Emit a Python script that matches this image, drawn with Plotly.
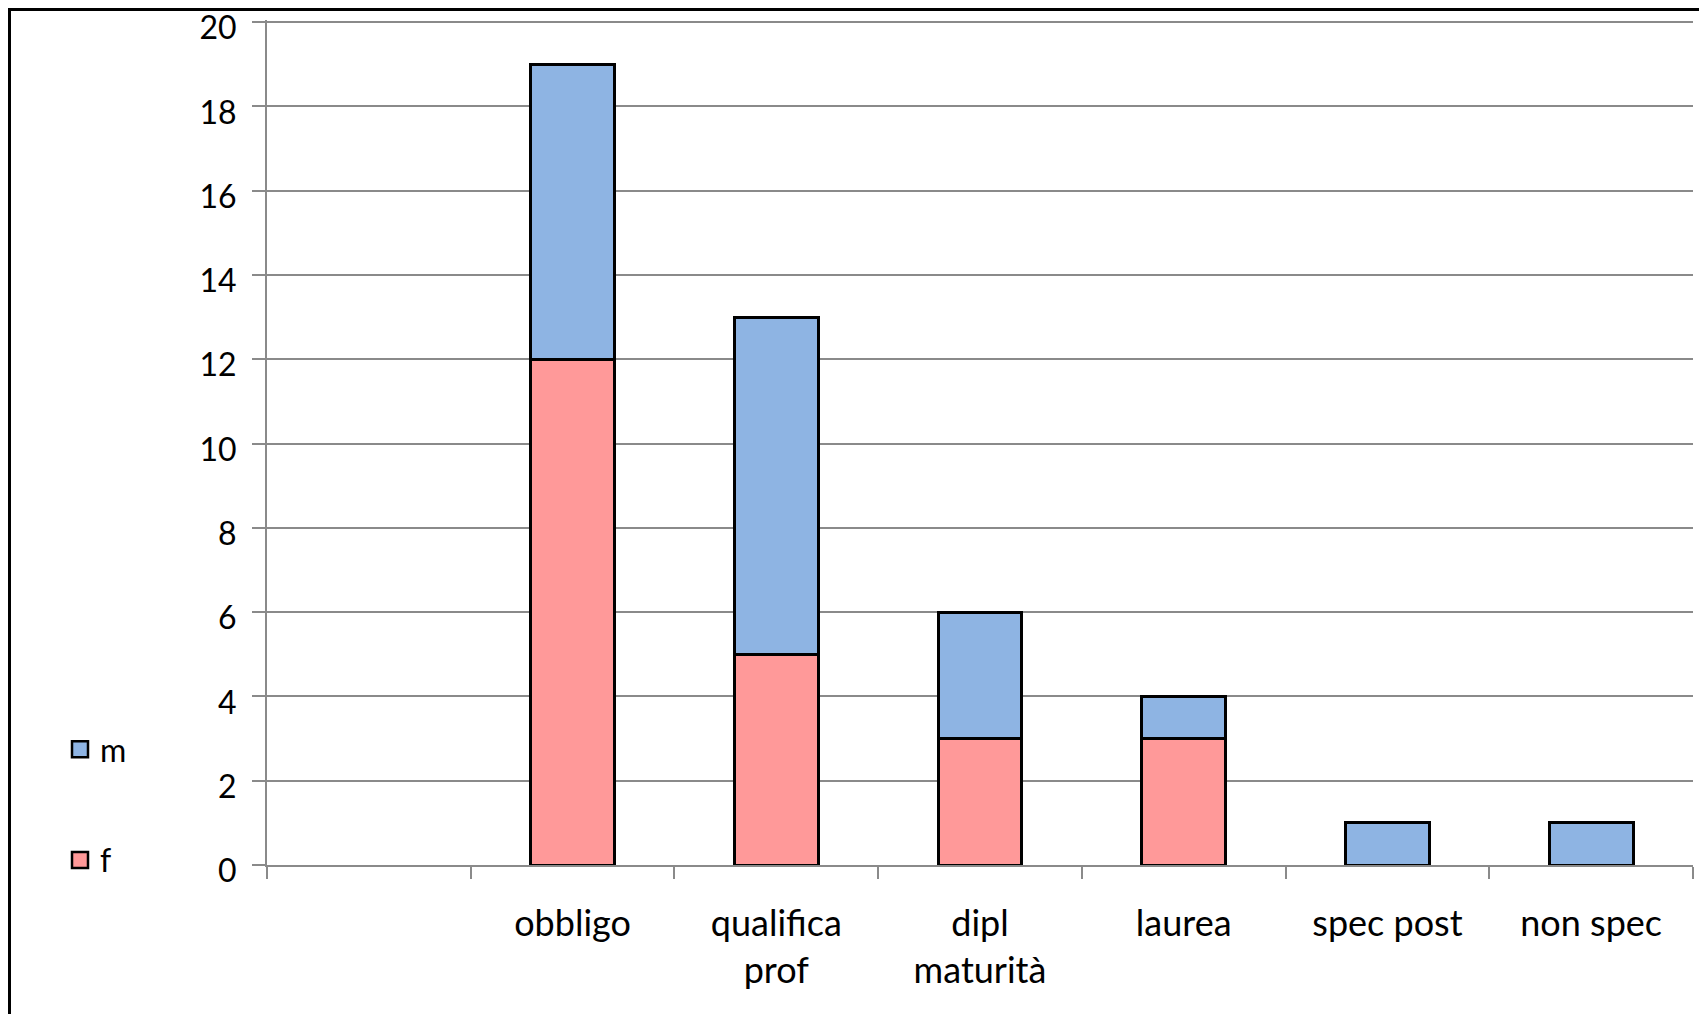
import plotly.graph_objects as go

categories = [" ", "obbligo", "qualifica<br>prof", "dipl<br>maturità", "laurea", "spec post", "non spec"]
f_values = [None, 12, 5, 3, 3, None, None]
m_values = [None, 7, 8, 3, 1, 1, 1]
y_ticks = [0, 2, 4, 6, 8, 10, 12, 14, 16, 18, 20]

F_COLOR = "#FF9999"
M_COLOR = "#8EB4E3"

OFF = 8  # page body margin
W, H = 1707 - OFF, 1014 - OFF
L, T = 267 - OFF, 12
pw, ph = 1426, 845
R, B = W - L - pw, H - T - ph

FONT = "Lato, Calibri, sans-serif"
GRID = "#8a8a8a"

fig = go.Figure()
fig.add_trace(go.Bar(x=categories, y=f_values, name="f", showlegend=False,
                     marker=dict(color=F_COLOR, line=dict(color="black", width=3))))
fig.add_trace(go.Bar(x=categories, y=m_values, name="m", showlegend=False,
                     marker=dict(color=M_COLOR, line=dict(color="black", width=3))))
# legend entries
fig.add_trace(go.Scatter(x=[None], y=[None], mode="markers", name="m", legendrank=1,
                         legendgroup="m",
                         marker=dict(symbol="square", size=18, color=M_COLOR,
                                     line=dict(color="black", width=2.5))))
fig.add_trace(go.Scatter(x=[None], y=[None], mode="markers", name="f", legendrank=2,
                         legendgroup="f",
                         marker=dict(symbol="square", size=18, color=F_COLOR,
                                     line=dict(color="black", width=2.5))))

def px(xp):
    return (xp - OFF - L) / pw

def py(yp):
    return 1 - (yp - OFF - T) / ph

fig.add_shape(type="rect", xref="paper", yref="paper",
              x0=px(9.5), x1=px(1704.5), y0=py(1030), y1=py(9.5),
              line=dict(color="black", width=3), layer="above")

fig.update_layout(
    width=W, height=H,
    barmode="stack", bargap=0.588,
    paper_bgcolor="white", plot_bgcolor="white",
    margin=dict(l=L, r=R, t=T, b=B, autoexpand=False),
    font=dict(family=FONT, size=32, color="black"),
    showlegend=True,
    legend=dict(x=px(60), y=py(722), xanchor="left", yanchor="top",
                traceorder="grouped", tracegroupgap=66, itemsizing="trace",
                font=dict(size=32), bgcolor="rgba(0,0,0,0)"),
    xaxis=dict(type="category", tickson="boundaries", ticks="outside", ticklen=12,
               tickcolor=GRID, tickwidth=2, showline=True, linecolor=GRID, linewidth=2,
               showgrid=False, range=[-0.5, 6.5], tickfont=dict(size=36),
               ticklabelstandoff=26, fixedrange=True),
    yaxis=dict(range=[0, 20.05], tickvals=y_ticks, ticks="outside", ticklen=13,
               tickcolor=GRID, tickwidth=2, showline=True, linecolor=GRID, linewidth=2,
               showgrid=True, gridcolor=GRID, gridwidth=2, zeroline=False,
               tickfont=dict(size=32), ticklabelstandoff=9, ticklabelshift=6,
               ticklabeloverflow="allow", fixedrange=True),
)

fig.write_html("out.html")
